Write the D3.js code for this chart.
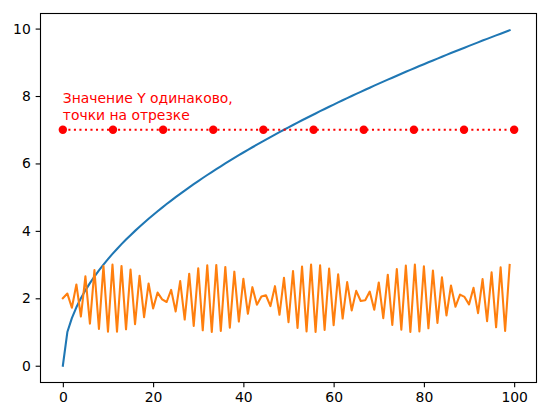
<!DOCTYPE html>
<html>
<head>
<meta charset="utf-8">
<script src="https://cdn.jsdelivr.net/npm/d3@7"></script>
<style>
  html, body { margin: 0; padding: 0; background: #fff; }
  svg { display: block; font-family: "DejaVu Sans", sans-serif; }
</style>
</head>
<body>
<div id="chart"></div>
<script>
// blue series: y for x = 0..99
const sqrtValues = [
  0, 1, 1.414, 1.732, 2, 2.236, 2.449, 2.646, 2.828, 3,
  3.162, 3.317, 3.464, 3.606, 3.742, 3.873, 4, 4.123, 4.243, 4.359,
  4.472, 4.583, 4.690, 4.796, 4.899, 5, 5.099, 5.196, 5.292, 5.385,
  5.477, 5.568, 5.657, 5.745, 5.831, 5.916, 6, 6.083, 6.164, 6.245,
  6.325, 6.403, 6.481, 6.557, 6.633, 6.708, 6.782, 6.856, 6.928, 7,
  7.071, 7.141, 7.211, 7.280, 7.348, 7.416, 7.483, 7.550, 7.616, 7.681,
  7.746, 7.810, 7.874, 7.937, 8, 8.062, 8.124, 8.185, 8.246, 8.307,
  8.367, 8.426, 8.485, 8.544, 8.602, 8.660, 8.718, 8.775, 8.832, 8.888,
  8.944, 9, 9.055, 9.110, 9.165, 9.220, 9.274, 9.327, 9.381, 9.434,
  9.487, 9.539, 9.592, 9.644, 9.695, 9.747, 9.798, 9.849, 9.899, 9.950
];

// orange series: y for x = 0..99
const waveValues = [
  2.00, 2.14, 1.72, 2.41, 1.46, 2.65, 1.25, 2.84, 1.09, 2.96,
  1.01, 3.00, 1.01, 2.96, 1.08, 2.85, 1.23, 2.67, 1.44, 2.44,
  1.70, 2.17, 1.97, 1.89, 2.25, 1.61, 2.51, 1.37, 2.73, 1.18,
  2.89, 1.05, 2.98, 1.00, 2.99, 1.03, 2.93, 1.13, 2.79, 1.31,
  2.58, 1.54, 2.33, 1.81, 2.05, 2.09, 1.77, 2.36, 1.51, 2.61,
  1.29, 2.81, 1.12, 2.94, 1.02, 3.00, 1.00, 2.98, 1.06, 2.88,
  1.20, 2.71, 1.40, 2.48, 1.64, 2.22, 1.92, 1.94, 2.20, 1.66,
  2.47, 1.41, 2.70, 1.21, 2.87, 1.07, 2.97, 1.00, 3.00, 1.02,
  2.95, 1.11, 2.82, 1.27, 2.62, 1.49, 2.38, 1.75, 2.11, 2.04,
  1.82, 2.31, 1.56, 2.57, 1.32, 2.77, 1.14, 2.92, 1.03, 2.99
];

// red points, all at the same y
const pointX = [0, 11.11, 22.22, 33.33, 44.44, 55.56, 66.67, 77.78, 88.89, 100];
const pointY = [7, 7, 7, 7, 7, 7, 7, 7, 7, 7];

const xTicks = [0, 20, 40, 60, 80, 100];
const yTicks = [0, 2, 4, 6, 8, 10];
const noteLines = ["Значение Y одинаково,", "точки на отрезке"];
const noteAt = [0, 7.3];

const width = 560, height = 420;
const margin = { top: 13.5, right: 23.5, bottom: 37.5, left: 40.5 };
const fontSize = "13.9px";

const svg = d3.select("#chart").append("svg")
  .attr("width", width)
  .attr("height", height);

const x = d3.scaleLinear().domain([-4.95, 104.95]).range([margin.left, width - margin.right]);
const y = d3.scaleLinear().domain([-0.4975, 10.4475]).range([height - margin.bottom, margin.top]);

const line = (vals) => d3.line()
  .x((d, i) => x(i))
  .y((d) => y(d))(vals);

// series
svg.append("path")
  .attr("d", line(sqrtValues))
  .attr("fill", "none")
  .attr("stroke", "#1f77b4")
  .attr("stroke-width", 2.08)
  .attr("stroke-linejoin", "round")
  .attr("stroke-linecap", "square");

svg.append("path")
  .attr("d", line(waveValues))
  .attr("fill", "none")
  .attr("stroke", "#ff7f0e")
  .attr("stroke-width", 2.08)
  .attr("stroke-linejoin", "round")
  .attr("stroke-linecap", "square");

const pts = pointX.map((px, i) => ({ px, py: pointY[i] }));

svg.append("path")
  .attr("d", d3.line().x((d) => x(d.px)).y((d) => y(d.py))(pts))
  .attr("fill", "none")
  .attr("stroke", "red")
  .attr("stroke-width", 2.08)
  .attr("stroke-dasharray", "2.08,3.44");

svg.append("g").selectAll("circle")
  .data(pts)
  .join("circle")
  .attr("cx", (d) => x(d.px))
  .attr("cy", (d) => y(d.py))
  .attr("r", 4.2)
  .attr("fill", "red");

// annotation
const note = svg.append("text")
  .attr("x", x(noteAt[0]))
  .attr("y", y(noteAt[1]))
  .attr("fill", "red")
  .style("font-size", fontSize);
noteLines.forEach((t, i) => {
  note.append("tspan")
    .attr("x", x(noteAt[0]))
    .attr("dy", i === 0 ? -16.5 * (noteLines.length - 1) : 16.5)
    .text(t);
});

// axes
const xAxis = svg.append("g")
  .attr("transform", `translate(0,${height - margin.bottom})`)
  .call(d3.axisBottom(x).tickValues(xTicks).tickSize(4.86).tickPadding(4.86));
const yAxis = svg.append("g")
  .attr("transform", `translate(${margin.left},0)`)
  .call(d3.axisLeft(y).tickValues(yTicks).tickSize(4.86).tickPadding(4.86));

[xAxis, yAxis].forEach((g) => {
  g.select(".domain").remove();
  g.selectAll(".tick line").attr("stroke", "#000").attr("stroke-width", 1.1);
  g.selectAll(".tick text")
    .attr("fill", "#000")
    .style("font-family", "DejaVu Sans")
    .style("font-size", fontSize);
});

// frame
svg.append("rect")
  .attr("x", margin.left)
  .attr("y", margin.top)
  .attr("width", width - margin.left - margin.right)
  .attr("height", height - margin.top - margin.bottom)
  .attr("fill", "none")
  .attr("stroke", "#000")
  .attr("stroke-width", 1.1);
</script>
</body>
</html>
